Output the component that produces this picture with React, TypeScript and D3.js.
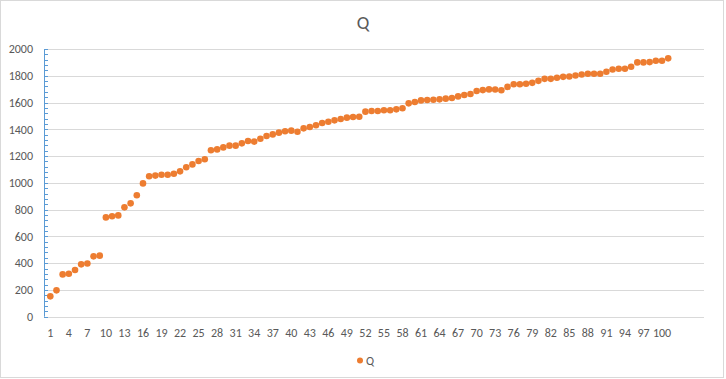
import React from "react";
import * as d3 from "d3";

const title = "Q";
const seriesName = "Q";
const values: number[] = [
  152, 197, 316, 321, 349, 391, 398, 451, 456, 742,
  750, 757, 817, 847, 907, 996, 1049, 1054, 1061, 1061,
  1068, 1086, 1116, 1138, 1163, 1176, 1243, 1250, 1265, 1278,
  1278, 1295, 1313, 1308, 1330, 1350, 1362, 1375, 1385, 1390,
  1382, 1407, 1417, 1430, 1447, 1457, 1467, 1477, 1487, 1492,
  1494, 1532, 1537, 1537, 1542, 1542, 1549, 1557, 1594, 1604,
  1616, 1619, 1621, 1624, 1629, 1634, 1646, 1656, 1664, 1686,
  1693, 1698, 1697, 1692, 1717, 1737, 1737, 1740, 1747, 1762,
  1777, 1777, 1785, 1792, 1795, 1802, 1810, 1815, 1815, 1815,
  1830, 1847, 1852, 1852, 1867, 1900, 1900, 1902, 1912, 1912,
  1930,
];
const categories: number[] = values.map((_, i) => i + 1);
const xTickLabels: number[] = categories.filter((c) => (c - 1) % 3 === 0 && c <= 100);
const yTicks: number[] = d3.range(0, 2001, 200);
const yMinorTicks: number[] = d3.range(0, 2001, 40);

const W = 726;
const H = 379;
const FONT = "Carlito, Calibri, Lato, 'Liberation Sans', sans-serif";
const TEXT = "#595959";
const ORANGE = "#ED7D31";

export default function App() {
  const plotLeft = 44.5;
  const plotRight = 704;
  const y = d3.scaleLinear().domain([0, 2000]).range([316.7, 49]);
  const x = d3.scaleLinear().domain([1, 100]).range([50.3, 662]);

  return (
    <svg
      width={W}
      height={H}
      style={{ position: "absolute", left: 0, top: 0, background: "#fff" }}
      fontFamily={FONT}
    >
      <rect x={0.5} y={0.5} width={723} height={377} fill="#fff" stroke="#D9D9D9" />
      <text x={363} y={29} textAnchor="middle" fontSize={18.7} fill={TEXT}>
        {title}
      </text>
      {yTicks.map((t) => (
        <g key={t}>
          <line
            x1={plotLeft}
            x2={plotRight}
            y1={Math.round(y(t)) + 0.5}
            y2={Math.round(y(t)) + 0.5}
            stroke="#D9D9D9"
            strokeWidth={1}
          />
          <text
            x={33}
            y={y(t)}
            dy="0.35em"
            textAnchor="end"
            fontSize={12}
            fill={TEXT}
          >
            {t}
          </text>
        </g>
      ))}
      <line x1={44.5} x2={44.5} y1={y(2000)} y2={y(0)} stroke="#5B9BD5" strokeWidth={1} />
      {yMinorTicks.map((t) => (
        <line
          key={"m" + t}
          x1={44}
          x2={48}
          y1={Math.round(y(t)) + 0.5}
          y2={Math.round(y(t)) + 0.5}
          stroke="#5B9BD5"
          strokeWidth={1}
        />
      ))}
      {xTickLabels.map((c) => (
        <text key={"x" + c} x={x(c)} y={337} textAnchor="middle" fontSize={12} fill={TEXT}>
          {c}
        </text>
      ))}
      {values.map((v, i) => (
        <circle key={"p" + i} cx={x(categories[i])} cy={y(v)} r={3.3} fill={ORANGE} />
      ))}
      <circle cx={360} cy={360.5} r={3} fill={ORANGE} />
      <text x={366} y={360.5} dy="0.35em" fontSize={12} fill={TEXT}>
        {seriesName}
      </text>
    </svg>
  );
}
